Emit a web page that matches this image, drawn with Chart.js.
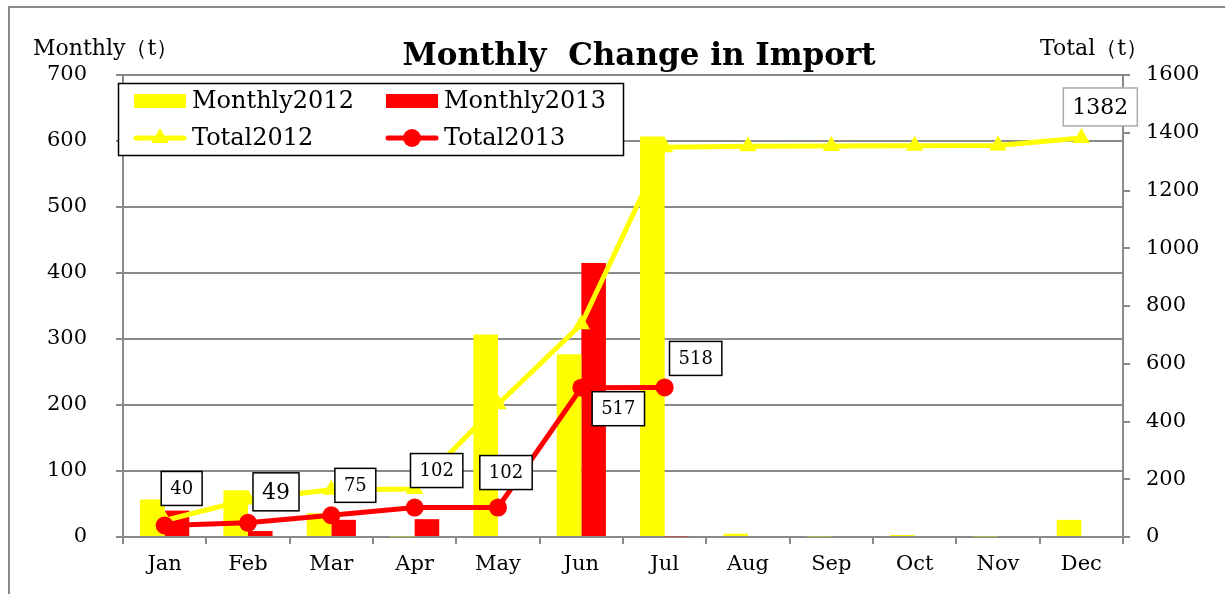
<!DOCTYPE html>
<html lang="en">
<head>
  <meta charset="UTF-8" />
  <title>Monthly Change in Import</title>
  <script src="https://cdn.jsdelivr.net/npm/chart.js"></script>
  <style>
    body { margin: 0; background: #fff; }
    #wrap { width: 1225px; height: 594px; }
  </style>
</head>
<body>
  <div id="wrap"><canvas id="chart" width="1225" height="594"></canvas></div>

  <script>
    const months = ['Jan', 'Feb', 'Mar', 'Apr', 'May', 'Jun', 'Jul', 'Aug', 'Sep', 'Oct', 'Nov', 'Dec'];
    const monthly2012 = [57, 71, 36, 1, 307, 277, 607, 5, 1, 3, 1, 26];
    const monthly2013 = [40, 9, 26, 27, 0, 415, 1, null, null, null, null, null];
    const total2012 = [57, 130, 164, 166, 460, 737, 1350, 1353, 1354, 1355, 1356, 1382];
    const total2013 = [40, 49, 75, 102, 102, 517, 518, null, null, null, null, null];
    const leftMax = 700, leftStep = 100;
    const rightMax = 1600, rightStep = 200;

    const FONT = "'DejaVu Serif', serif";
    const GRID = '#8a8a8a';

    // boxed value labels: which series, which month, and where the box sits
    const valueLabels = [
      { series: 3, index: 0, dx: 17, dy: -37, size: 18, border: '#000' },
      { series: 3, index: 1, dx: 28, dy: -31, size: 22, border: '#000' },
      { series: 3, index: 2, dx: 24, dy: -30, size: 18, border: '#000' },
      { series: 3, index: 3, dx: 22, dy: -37, size: 18, border: '#000' },
      { series: 3, index: 4, dx: 8, dy: -35, size: 18, border: '#000' },
      { series: 3, index: 5, dx: 37, dy: 21, size: 18, border: '#000' },
      { series: 3, index: 6, dx: 31, dy: -29, size: 18, border: '#000' },
      { series: 2, index: 11, dx: 19, dy: -31, size: 22, border: '#aaa' }
    ];

    const framePlugin = {
      id: 'frame',
      beforeDraw(chart) {
        const ctx = chart.ctx;
        ctx.save();
        ctx.fillStyle = '#fff';
        ctx.fillRect(0, 0, chart.width, chart.height);
        ctx.strokeStyle = GRID;
        ctx.lineWidth = 2;
        ctx.strokeRect(9, 7, 1400, 800);
        ctx.restore();
      },
      afterDraw(chart) {
        const ctx = chart.ctx;
        ctx.save();
        ctx.fillStyle = '#000';
        ctx.textBaseline = 'alphabetic';
        ctx.font = `bold 31px ${FONT}`;
        ctx.textAlign = 'center';
        ctx.fillText('Monthly  Change in Import', 639, 65);
        ctx.font = `22px ${FONT}`;
        ctx.textAlign = 'left';
        ctx.fillText('Monthly（t）', 33, 55);
        ctx.fillText('Total（t）', 1040, 55);
        ctx.restore();
      }
    };

    const legendPlugin = {
      id: 'boxLegend',
      afterDatasetsDraw(chart) {
        const ctx = chart.ctx;
        const sets = chart.data.datasets;
        const cols = [134, 386];
        const rows = [101, 138];
        ctx.save();
        ctx.fillStyle = '#fff';
        ctx.fillRect(118, 83, 505, 72);
        ctx.strokeStyle = '#000';
        ctx.lineWidth = 1.5;
        ctx.strokeRect(118.5, 83.5, 505, 72);
        sets.forEach((ds, i) => {
          const x = cols[i % 2];
          const y = rows[Math.floor(i / 2)];
          if (ds.type === 'bar') {
            ctx.fillStyle = ds.backgroundColor;
            ctx.fillRect(x, y - 7, 52, 14);
          } else {
            ctx.strokeStyle = ds.borderColor;
            ctx.lineWidth = 5;
            ctx.lineCap = 'round';
            ctx.beginPath();
            ctx.moveTo(x + 2, y);
            ctx.lineTo(x + 50, y);
            ctx.stroke();
            ctx.fillStyle = ds.borderColor;
            Chart.helpers.drawPoint(ctx, { pointStyle: ds.pointStyle, radius: ds.pointRadius, rotation: 0, borderWidth: 0 }, x + 26, y);
          }
          ctx.fillStyle = '#000';
          ctx.font = `24px ${FONT}`;
          ctx.textAlign = 'left';
          ctx.textBaseline = 'middle';
          ctx.fillText(ds.label, x + 58, y + 1);
        });
        ctx.restore();
      }
    };

    const labelPlugin = {
      id: 'valueBoxes',
      afterDraw(chart) {
        const ctx = chart.ctx;
        const xs = chart.scales.x;
        const ys = chart.scales.y2;
        ctx.save();
        valueLabels.forEach(l => {
          const v = chart.data.datasets[l.series].data[l.index];
          const cx = xs.getPixelForValue(l.index) + l.dx;
          const cy = ys.getPixelForValue(v) + l.dy;
          ctx.font = `${l.size}px ${FONT}`;
          const txt = String(v);
          const w = ctx.measureText(txt).width + 18;
          const h = l.size + 16;
          ctx.fillStyle = '#fff';
          ctx.fillRect(cx - w / 2, cy - h / 2, w, h);
          ctx.strokeStyle = l.border;
          ctx.lineWidth = 1.5;
          ctx.strokeRect(cx - w / 2, cy - h / 2, w, h);
          ctx.fillStyle = '#000';
          ctx.textAlign = 'center';
          ctx.textBaseline = 'middle';
          ctx.fillText(txt, cx, cy + 1);
        });
        ctx.restore();
      }
    };

    const tickFont = { family: FONT, size: 21 };

    new Chart(document.getElementById('chart'), {
      data: {
        labels: months,
        datasets: [
          { type: 'bar', label: 'Monthly2012', data: monthly2012, backgroundColor: '#ffff00', yAxisID: 'y', order: 2, categoryPercentage: 0.59, barPercentage: 1 },
          { type: 'bar', label: 'Monthly2013', data: monthly2013, backgroundColor: '#ff0000', yAxisID: 'y', order: 3, categoryPercentage: 0.59, barPercentage: 1 },
          { type: 'line', label: 'Total2012', data: total2012, borderColor: '#ffff00', backgroundColor: '#ffff00', borderWidth: 5, pointStyle: 'triangle', pointRadius: 10, pointBorderWidth: 0, yAxisID: 'y2', order: 1, tension: 0 },
          { type: 'line', label: 'Total2013', data: total2013, borderColor: '#ff0000', backgroundColor: '#ff0000', borderWidth: 5, pointStyle: 'circle', pointRadius: 9, pointBorderWidth: 0, yAxisID: 'y2', order: 0, tension: 0 }
        ]
      },
      options: {
        responsive: false,
        animation: false,
        layout: { padding: { top: 75, left: 0, right: 0, bottom: 0 } },
        plugins: {
          legend: { display: false },
          title: { display: false },
          tooltip: { enabled: false }
        },
        scales: {
          x: {
            grid: { drawOnChartArea: false, color: GRID, lineWidth: 2, tickLength: 7, offset: true },
            border: { color: GRID, width: 2 },
            ticks: { font: tickFont, color: '#000', padding: 8 },
            afterFit: s => { s.height = 57; }
          },
          y: {
            position: 'left',
            min: 0, max: leftMax,
            ticks: { stepSize: leftStep, font: tickFont, color: '#000', padding: 29, callback: v => String(v) },
            grid: { color: GRID, lineWidth: 2, tickLength: 7 },
            border: { color: GRID, width: 2 },
            afterFit: s => { s.width = 123; }
          },
          y2: {
            position: 'right',
            min: 0, max: rightMax,
            ticks: { stepSize: rightStep, font: tickFont, color: '#000', padding: 16, callback: v => String(v) },
            grid: { drawOnChartArea: false, color: GRID, lineWidth: 2, tickLength: 7 },
            border: { color: GRID, width: 2 },
            afterFit: s => { s.width = 102; }
          }
        }
      },
      plugins: [framePlugin, legendPlugin, labelPlugin]
    });
  </script>
</body>
</html>
